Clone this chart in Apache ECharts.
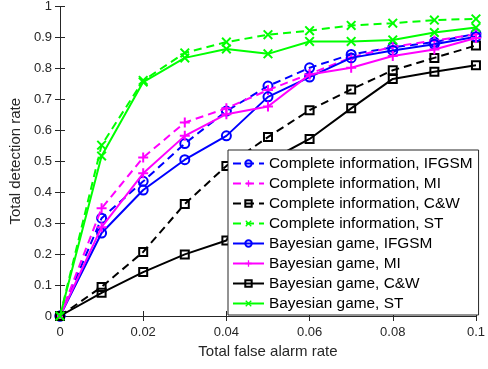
<!DOCTYPE html>
<html><head><meta charset="utf-8">
<script src="https://cdn.jsdelivr.net/npm/echarts@6/dist/echarts.min.js"></script>
<style>html,body{margin:0;padding:0;background:#fff}#c{width:488px;height:369px}</style>
</head><body><div id="c"></div>
<script>
var falseAlarm = [0, 0.01, 0.02, 0.03, 0.04, 0.05, 0.06, 0.07, 0.08, 0.09, 0.1];
var ciIFGSM = [0, 0.316, 0.435, 0.557, 0.662, 0.743, 0.802, 0.845, 0.868, 0.885, 0.912];
var ciMI    = [0, 0.348, 0.512, 0.625, 0.671, 0.730, 0.782, 0.835, 0.870, 0.890, 0.910];
var ciCW    = [0, 0.094, 0.207, 0.362, 0.485, 0.578, 0.665, 0.732, 0.794, 0.834, 0.874];
var ciST    = [0, 0.552, 0.761, 0.850, 0.885, 0.909, 0.922, 0.939, 0.946, 0.956, 0.960];
var bgIFGSM = [0, 0.268, 0.407, 0.505, 0.582, 0.708, 0.772, 0.834, 0.858, 0.878, 0.902];
var bgMI    = [0, 0.287, 0.461, 0.582, 0.652, 0.677, 0.780, 0.802, 0.840, 0.861, 0.898];
var bgCW    = [0, 0.075, 0.142, 0.199, 0.244, 0.500, 0.572, 0.671, 0.766, 0.789, 0.810];
var bgST    = [0, 0.517, 0.756, 0.834, 0.863, 0.847, 0.887, 0.887, 0.892, 0.916, 0.932];
var xTicks = [0, 0.02, 0.04, 0.06, 0.08, 0.1];

var seriesNames = ['Complete information, IFGSM','Complete information, MI','Complete information, C&W','Complete information, ST',
  'Bayesian game, IFGSM','Bayesian game, MI','Bayesian game, C&W','Bayesian game, ST'];
var seriesData = [ciIFGSM, ciMI, ciCW, ciST, bgIFGSM, bgMI, bgCW, bgST];

var BLUE='#0000ff', MAG='#ff00ff', BLK='#000000', GRN='#00ff00';
var colors = [BLUE, MAG, BLK, GRN, BLUE, MAG, BLK, GRN];
var PLUS = 'path://M4,0h2v4h4v2h-4v4h-2v-4h-4v-2h4z';
var CROSS = 'path://M0,1.4L1.4,0L5,3.6L8.6,0L10,1.4L6.4,5L10,8.6L8.6,10L5,6.4L1.4,10L0,8.6L3.6,5z';
var markers = ['circle', PLUS, 'rect', CROSS, 'circle', PLUS, 'rect', CROSS];

var series = seriesNames.map(function(n, i){
  var m = markers[i];
  var hollow = (m === 'circle' || m === 'rect');
  return {
    name: n, type: 'line', xAxisIndex: 0, yAxisIndex: 0,
    data: falseAlarm.map(function(x, j){ return [x, seriesData[i][j]]; }),
    symbol: m,
    symbolSize: m === 'circle' ? 9 : (m === 'rect' ? 8 : 10),
    showAllSymbol: true,
    lineStyle: { color: colors[i], width: 2, type: i < 4 ? [8, 5] : 'solid' },
    itemStyle: hollow ? { color: 'rgba(255,255,255,0)', borderColor: colors[i], borderWidth: 2 }
                      : { color: colors[i], borderWidth: 0 },
    emphasis: { disabled: true },
    animation: false,
    z: 2 + i
  };
});

var axisCol = '#262626';
var chart = echarts.init(document.getElementById('c'), null, {renderer: 'canvas'});
chart.setOption({
  animation: false,
  backgroundColor: '#ffffff',
  grid: { left: 60, right: 11.5, top: 5, bottom: 53, containLabel: false },
  xAxis: [{
    type: 'value', min: 0, max: 0.1, interval: 0.02, position: 'bottom',
    name: 'Total false alarm rate', nameLocation: 'middle', nameGap: 26,
    nameTextStyle: { color: axisCol, fontSize: 15, fontFamily: 'Liberation Sans, Arial' },
    axisLine: { show: true, lineStyle: { color: axisCol, width: 1 } },
    axisTick: { show: true, inside: true, length: 5, lineStyle: { color: axisCol } },
    axisLabel: { color: axisCol, fontSize: 13, fontFamily: 'Liberation Sans, Arial', margin: 10,
      formatter: function(v){ var k = xTicks.indexOf(Math.round(v*100)/100); return k >= 0 ? String(xTicks[k]) : ''; } },
    splitLine: { show: false }
  }, {
    type: 'value', min: 0, max: 0.1, interval: 0.02, position: 'top',
    axisLine: { show: true, lineStyle: { color: axisCol, width: 1 } },
    axisTick: { show: true, inside: true, length: 5, lineStyle: { color: axisCol } },
    axisLabel: { show: false }, splitLine: { show: false }
  }],
  yAxis: [{
    type: 'value', min: 0, max: 1, interval: 0.1, position: 'left',
    name: 'Total detection rate', nameLocation: 'middle', nameGap: 32,
    nameTextStyle: { color: axisCol, fontSize: 15, fontFamily: 'Liberation Sans, Arial' },
    axisLine: { show: true, lineStyle: { color: axisCol, width: 1 } },
    axisTick: { show: true, inside: true, length: 5, lineStyle: { color: axisCol } },
    axisLabel: { color: axisCol, fontSize: 13, fontFamily: 'Liberation Sans, Arial', margin: 8 },
    splitLine: { show: false }
  }, {
    type: 'value', min: 0, max: 1, interval: 0.1, position: 'right',
    axisLine: { show: true, lineStyle: { color: axisCol, width: 1 } },
    axisTick: { show: true, inside: true, length: 5, lineStyle: { color: axisCol } },
    axisLabel: { show: false }, splitLine: { show: false }
  }],
  legend: {
    orient: 'vertical', left: 228, top: 150,
    padding: [6, 6, 4, 4], itemGap: 5, itemWidth: 31, itemHeight: 8,
    backgroundColor: '#ffffff', borderColor: axisCol, borderWidth: 1, borderRadius: 0,
    textStyle: { color: '#000000', fontSize: 15.4, fontFamily: 'Liberation Sans, Arial', lineHeight: 15 },
    data: seriesNames,
    z: 20
  },
  series: series
});
</script></body></html>
